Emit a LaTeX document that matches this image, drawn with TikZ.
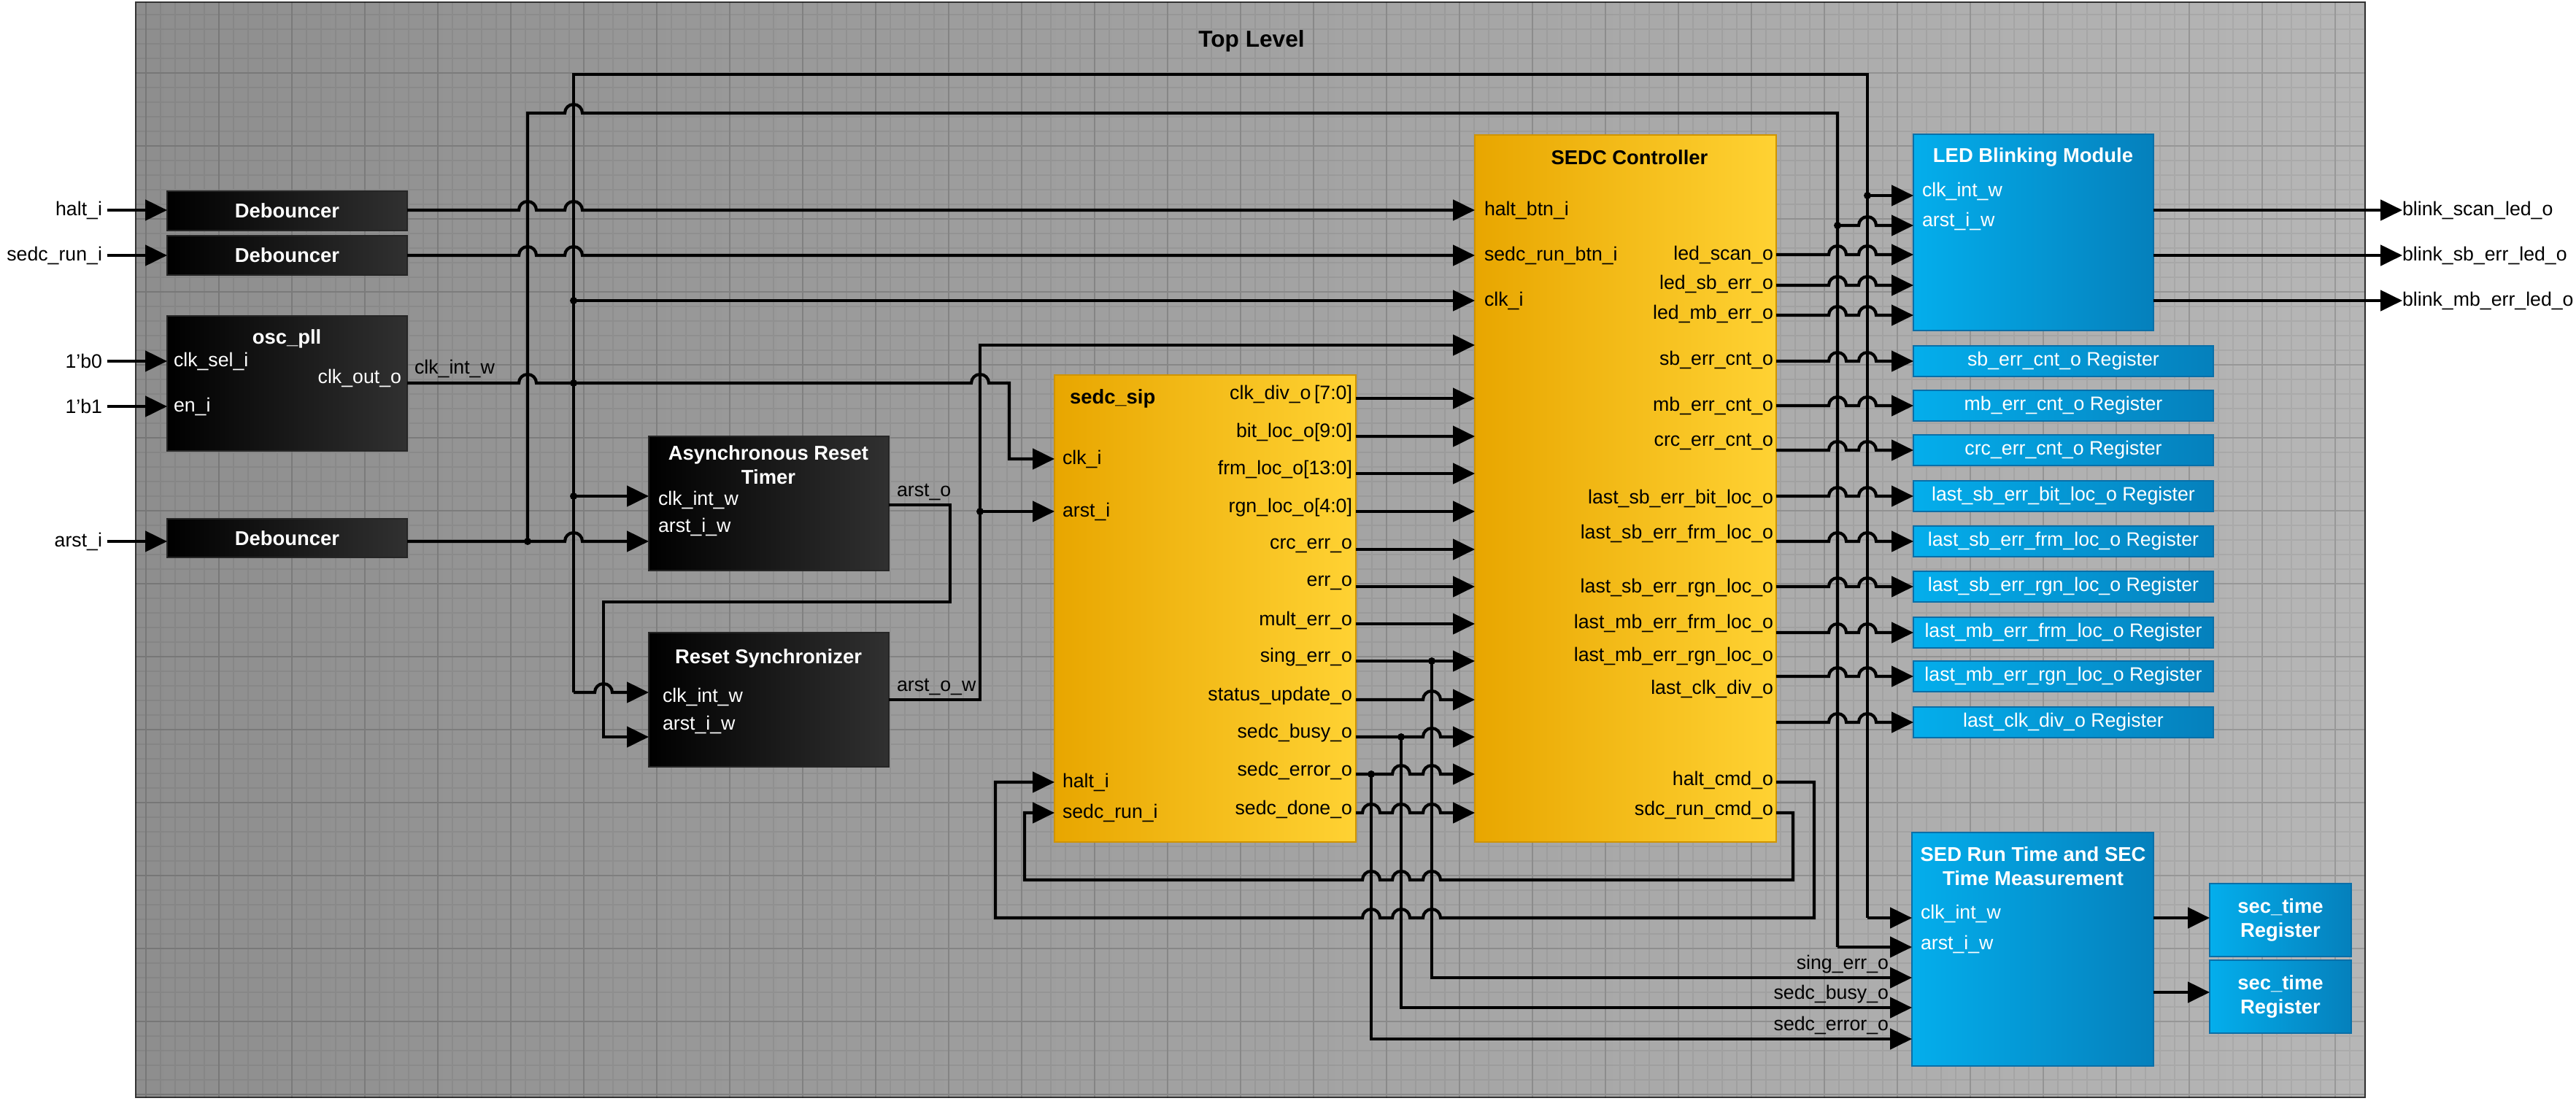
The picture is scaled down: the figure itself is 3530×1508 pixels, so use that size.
\documentclass[tikz,border=0pt]{standalone}
\usepackage{fontspec}
\setmainfont{Liberation Sans}
\usetikzlibrary{arrows.meta}
\definecolor{yA}{HTML}{E8A600}\definecolor{yB}{HTML}{FFD233}\definecolor{yE}{HTML}{D09400}
\definecolor{bA}{HTML}{04AEEC}\definecolor{bB}{HTML}{0580BC}\definecolor{bE}{HTML}{0A6FA8}
\definecolor{pA}{HTML}{8E8E8E}\definecolor{pB}{HTML}{B6B6B6}
\newcommand\hop[2]{-- ({#1-12},#2) arc[start angle=180,end angle=360,radius=12]}
\newcommand\hopl[2]{-- ({#1+12},#2) arc[start angle=0,end angle=-180,radius=12]}
\newcommand\bx[6]{\node[#6,anchor=north west,minimum width={(#4-#2)*0.1mm},minimum height={(#5-#3)*0.1mm}] (#1) at (#2,#3) {};}
\newcommand\jdot[2]{\fill (#1,#2) circle[radius=5];}
\begin{document}
\begin{tikzpicture}[x=0.1mm,y=-0.1mm,
  every node/.style={font=\fontsize{7.6}{9.2}\selectfont,inner sep=0pt,outer sep=0pt},
  dark/.style={draw=gray!30!black,line width=0.6pt,left color=black,right color=gray!38!black},
  yel/.style={draw=yE,line width=0.6pt,left color=yA,right color=yB},
  blu/.style={draw=bE,line width=0.6pt,left color=bA,right color=bB},
  wire/.style={line width=1.2pt,black},
  arr/.style={-{Triangle[length=8.5pt,width=8pt]}},
  wt/.style={text=white},
  wtb/.style={text=white,font=\fontsize{7.8}{9.4}\selectfont\bfseries},
  bt/.style={text=black}]
\useasboundingbox (0,0) rectangle (3530,1508);
\fill[white] (0,0) rectangle (3530,1508);
% panel
\node[draw=gray!40!black,line width=0.6pt,left color=pA,right color=pB,anchor=north west,minimum width={3055*0.1mm},minimum height={1501*0.1mm}] (panel) at (186,3) {};
\begin{scope}
\clip (186,3) rectangle (3241,1504);
\draw[black,opacity=0.06,line width=0.3pt,step=2mm] (186,0) grid (3250,1510);
\draw[black,opacity=0.1,line width=0.4pt,step=10mm] (186,0) grid (3250,1510);
\end{scope}
\node[font=\fontsize{9}{11}\selectfont\bfseries] (title) at (1715,56) {Top Level};
% boxes
\bx{db1}{229}{262}{558}{316}{dark}
\bx{db2}{229}{323}{558}{377}{dark}
\bx{osc}{229}{433}{558}{618}{dark}
\bx{db3}{229}{711}{558}{764}{dark}
\bx{art}{889}{598}{1218}{782}{dark}
\bx{rs}{889}{867}{1218}{1051}{dark}
\bx{sip}{1445}{514}{1858}{1154}{yel}
\bx{sedc}{2021}{185}{2434}{1154}{yel}
\bx{led}{2622}{184}{2951}{453}{blu}
\bx{sed}{2620}{1141}{2951}{1461}{blu}
\bx{st1}{3028}{1211}{3222}{1311}{blu}
\bx{st2}{3028}{1316}{3222}{1416}{blu}
\foreach \n/\y/\t in {r1/495/sb\_err\_cnt\_o,r2/556/mb\_err\_cnt\_o,r3/617/crc\_err\_cnt\_o,r4/680/last\_sb\_err\_bit\_loc\_o,r5/742/last\_sb\_err\_frm\_loc\_o,r6/804/last\_sb\_err\_rgn\_loc\_o,r7/867/last\_mb\_err\_frm\_loc\_o,r8/927/last\_mb\_err\_rgn\_loc\_o,r9/990/last\_clk\_div\_o}{
  \node[blu,anchor=west,minimum width={411*0.1mm},minimum height={42*0.1mm},text=white] (\n) at (2622,\y) {\t{} Register};
  \draw[wire,arr] (sedc.east|-0,\y) \hop{2518}{\y}\hop{2559}{\y} -- (\n.west);
}
% box texts
\foreach \b in {db1,db2,db3}{\node[wtb] (\b t) at (\b) {Debouncer};}
\node[wtb] (osct) at (393,464) {osc\_pll};
\node[wt,anchor=west] (oscl1) at (238,495) {clk\_sel\_i};
\node[wt,anchor=west] (oscl2) at (238,557) {en\_i};
\node[wt,anchor=east] (oscl3) at (550,518) {clk\_out\_o};
\node[bt,anchor=south west] (clkw) at (568,518) {clk\_int\_w};
\node[wtb,align=center] (artt) at (1053,637) {Asynchronous Reset\\Timer};
\node[wt,anchor=west] (artl1) at (902,685) {clk\_int\_w};
\node[wt,anchor=west] (artl2) at (902,722) {arst\_i\_w};
\node[bt,anchor=south west] (arsto) at (1229,686) {arst\_o};
\node[wtb] (rst) at (1053,902) {Reset Synchronizer};
\node[wt,anchor=west] (rsl1) at (908,955) {clk\_int\_w};
\node[wt,anchor=west] (rsl2) at (908,993) {arst\_i\_w};
\node[bt,anchor=south west] (arstow) at (1229,953) {arst\_o\_w};
% sip
\node[font=\fontsize{7.8}{9.4}\selectfont\bfseries,anchor=west] (sipt) at (1466,546) {sedc\_sip};
\foreach \y/\t in {629/clk\_i,701/arst\_i,1072/halt\_i,1114/sedc\_run\_i}{\node[anchor=west] at (1456,\y) {\t};}
\foreach \y/\t in {546/clk\_div\_o\,[7:0],598/bit\_loc\_o[9:0],649/frm\_loc\_o[13:0],701/rgn\_loc\_o[4:0],753/crc\_err\_o,804/err\_o,855/mult\_err\_o,906/sing\_err\_o,959/status\_update\_o,1010/sedc\_busy\_o,1061/sedc\_error\_o,1114/sedc\_done\_o}{\node[anchor=east] at (1853,\y-5) {\t};}
% sedc
\node[font=\fontsize{7.8}{9.4}\selectfont\bfseries] (sedct) at (2233,216) {SEDC Controller};
\foreach \y/\t in {288/halt\_btn\_i,350/sedc\_run\_btn\_i,412/clk\_i}{\node[anchor=west] at (2034,\y) {\t};}
\foreach \y/\t in {349/led\_scan\_o,389/led\_sb\_err\_o,430/led\_mb\_err\_o,493/sb\_err\_cnt\_o,556/mb\_err\_cnt\_o,606/crc\_err\_cnt\_o,683/last\_sb\_err\_bit\_loc\_o,731/last\_sb\_err\_frm\_loc\_o,806/last\_sb\_err\_rgn\_loc\_o,854/last\_mb\_err\_frm\_loc\_o,900/last\_mb\_err\_rgn\_loc\_o,944/last\_clk\_div\_o,1069/halt\_cmd\_o,1110/sdc\_run\_cmd\_o}{\node[anchor=east] at (2430,\y) {\t};}
% led / sed
\node[wtb] (ledt) at (2786,215) {LED Blinking Module};
\node[wt,anchor=west] (ledl1) at (2634,262) {clk\_int\_w};
\node[wt,anchor=west] (ledl2) at (2634,303) {arst\_i\_w};
\node[wtb,align=center] (sedt) at (2786,1187) {SED Run Time and SEC\\Time Measurement};
\node[wt,anchor=west] (sedl1) at (2632,1252) {clk\_int\_w};
\node[wt,anchor=west] (sedl2) at (2632,1294) {arst\_i\_w};
\node[wtb,align=center] (st1t) at (st1) {sec\_time\\Register};
\node[wtb,align=center] (st2t) at (st2) {sec\_time\\Register};
\node[anchor=south east] (sl1) at (2588,1334) {sing\_err\_o};
\node[anchor=south east] (sl2) at (2588,1375) {sedc\_busy\_o};
\node[anchor=south east] (sl3) at (2588,1418) {sedc\_error\_o};
% external ports
\foreach \n/\y/\t in {ih/288/halt\_i,is/350/sedc\_run\_i,i0/495/1'b0,i1/557/1'b1,ia/742/arst\_i}{\node[anchor=east] (\n) at (140,\y) {\t};}
\draw[wire,arr] (147,288) -- (db1.west|-0,288);
\draw[wire,arr] (147,350) -- (db2.west|-0,350);
\draw[wire,arr] (147,495) -- (osc.west|-0,495);
\draw[wire,arr] (147,557) -- (osc.west|-0,557);
\draw[wire,arr] (147,742) -- (db3.west|-0,742);
\foreach \n/\y/\t in {o1/288/blink\_scan\_led\_o,o2/350/blink\_sb\_err\_led\_o,o3/412/blink\_mb\_err\_led\_o}{
  \node[anchor=west] (\n) at (3292,\y) {\t};
  \draw[wire,arr] (led.east|-0,\y) -- (\n.west);}
% left wiring
\draw[wire,arr] (db1.east|-0,288) \hop{723}{288}\hop{786}{288} -- (sedc.west|-0,288);
\draw[wire,arr] (db2.east|-0,350) \hop{723}{350}\hop{786}{350} -- (sedc.west|-0,350);
\draw[wire,arr] (786,949) \hop{827}{949} -- (rs.west|-0,949);
\draw[wire] (786,949) -- (786,102) -- (2559,102) -- (2559,1258);
\draw[wire,arr] (2559,1258) -- (sed.west|-0,1258);
\draw[wire,arr] (2559,268) -- (led.west|-0,268);
\draw[wire] (db3.east|-0,742) -- (723,742) -- (723,155) \hop{786}{155} -- (2518,155) -- (2518,1298);
\draw[wire,arr] (2518,1298) -- (sed.west|-0,1298);
\draw[wire,arr] (2518,309) \hop{2559}{309} -- (led.west|-0,309);
\draw[wire,arr] (723,742) \hop{786}{742} -- (art.west|-0,742);
\draw[wire,arr] (osc.east|-0,525) \hop{723}{525} \hop{1343}{525} -- (1383,525) -- (1383,629) -- (sip.west|-0,629);
\draw[wire,arr] (786,412) -- (sedc.west|-0,412);
\draw[wire,arr] (786,680) -- (art.west|-0,680);
\draw[wire,arr] (art.east|-0,692) -- (1302,692) -- (1302,825) -- (827,825) -- (827,1010) -- (rs.west|-0,1010);
\draw[wire,arr] (rs.east|-0,959) -- (1343,959) -- (1343,473) -- (sedc.west|-0,473);
\draw[wire,arr] (1343,701) -- (sip.west|-0,701);
\foreach \x/\y in {786/412,786/525,786/680,723/742,1343/701,1962/906,1920/1010,1879/1061,2559/268,2518/309}{\jdot{\x}{\y}}
% sip -> sedc
\foreach \y in {546,598,649,701,753,804,855,906}{\draw[wire,arr] (sip.east|-0,\y) -- (sedc.west|-0,\y);}
\draw[wire,arr] (sip.east|-0,959) \hop{1962}{959} -- (sedc.west|-0,959);
\draw[wire,arr] (sip.east|-0,1010) \hop{1962}{1010} -- (sedc.west|-0,1010);
\draw[wire,arr] (sip.east|-0,1061) \hop{1920}{1061}\hop{1962}{1061} -- (sedc.west|-0,1061);
\draw[wire,arr] (sip.east|-0,1114) \hop{1879}{1114}\hop{1920}{1114}\hop{1962}{1114} -- (sedc.west|-0,1114);
\draw[wire,arr] (1962,906) -- (1962,1340) -- (sed.west|-0,1340);
\draw[wire,arr] (1920,1010) -- (1920,1381) -- (sed.west|-0,1381);
\draw[wire,arr] (1879,1061) -- (1879,1424) -- (sed.west|-0,1424);
% feedback
\draw[wire,arr] (sedc.east|-0,1072) -- (2486,1072) -- (2486,1258) \hopl{1962}{1258}\hopl{1920}{1258}\hopl{1879}{1258} -- (1364,1258) -- (1364,1072) -- (sip.west|-0,1072);
\draw[wire,arr] (sedc.east|-0,1114) -- (2457,1114) -- (2457,1206) \hopl{1962}{1206}\hopl{1920}{1206}\hopl{1879}{1206} -- (1404,1206) -- (1404,1114) -- (sip.west|-0,1114);
% sedc -> led
\foreach \y in {349,391,432}{\draw[wire,arr] (sedc.east|-0,\y) \hop{2518}{\y}\hop{2559}{\y} -- (led.west|-0,\y);}
% sed -> registers
\draw[wire,arr] (sed.east|-0,1258) -- (st1.west|-0,1258);
\draw[wire,arr] (sed.east|-0,1360) -- (st2.west|-0,1360);
\end{tikzpicture}
\end{document}
